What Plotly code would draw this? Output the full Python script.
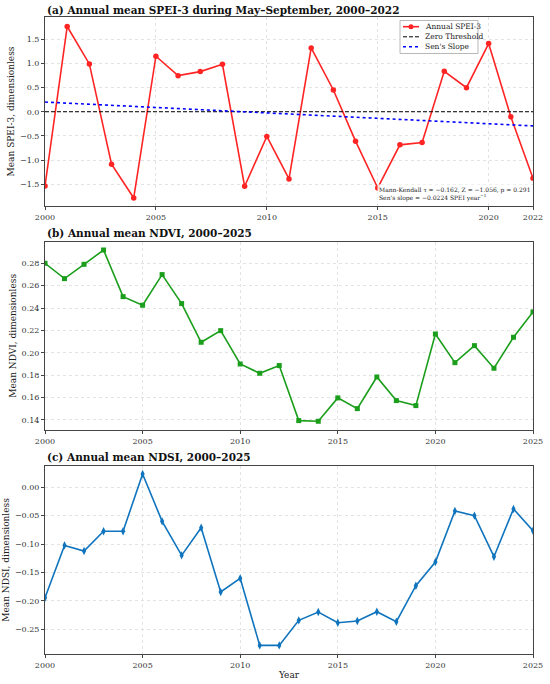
import plotly.graph_objects as go

# ---------------- data ----------------
spei_years = list(range(2000, 2023))
spei_values = [-1.535, 1.763, 0.989, -1.086, -1.784, 1.148, 0.747, 0.830, 0.982,
               -1.542, -0.512, -1.390, 1.321, 0.450, -0.609, -1.577, -0.685, -0.636,
               0.837, 0.498, 1.411, -0.104, -1.376]
sens_years = [2000, 2022]
sens_values = [0.200, -0.293]
zero_years = [2000, 2022]
zero_values = [0.0, 0.0]

ndvi_years = list(range(2000, 2026))
ndvi_values = [0.2800, 0.2663, 0.2791, 0.2919, 0.2502, 0.2425, 0.2699, 0.2440, 0.2094,
               0.2198, 0.1900, 0.1817, 0.1886, 0.1394, 0.1388, 0.1597, 0.1501, 0.1784,
               0.1573, 0.1528, 0.2168, 0.1912, 0.2064, 0.1862, 0.2139, 0.2365]

ndsi_years = list(range(2000, 2026))
ndsi_values = [-0.1947, -0.1024, -0.1124, -0.0776, -0.0776, 0.0235, -0.0600, -0.1200,
               -0.0712, -0.1847, -0.1606, -0.2788, -0.2788, -0.2347, -0.2200, -0.2388,
               -0.2359, -0.2194, -0.2371, -0.1735, -0.1318, -0.0418, -0.0500, -0.1224,
               -0.0382, -0.0765]

spei_xticks = [2000, 2005, 2010, 2015, 2020, 2022]
long_xticks = [2000, 2005, 2010, 2015, 2020, 2025]

legend_labels = ["Annual SPEI-3", "Zero Threshold", "Sen's Slope"]
titles = ["(a) Annual mean SPEI-3 during May\u2013September, 2000\u20132022",
          "(b) Annual mean NDVI, 2000\u20132025",
          "(c) Annual mean NDSI, 2000\u20132025"]
ylabels = ["Mean SPEI-3, dimensionless", "Mean NDVI, dimensionless", "Mean NDSI, dimensionless"]
stats_text = ("Mann-Kendall \u03c4 = \u22120.162, Z = \u22121.056, p = 0.291<br>"
              "Sen's slope = \u22120.0224 SPEI year<sup>\u22121</sup>")

# ---------------- styling ----------------
W, H = 550, 684
L, R, T, B = 45, 17, 17, 30
PH = H - T - B
PW = W - L - R
FONT = "DejaVu Serif"
RED = "#ff2424"
GREEN = "#1b9e1b"
BLUE = "#0f74bd"
TXT = "#222222"

def py(px):
    # pixel y (from top of page) -> paper fraction
    return 1 - (px - T) / PH

def pxx(px):
    return (px - L) / PW

doms = [[py(206), py(17)], [py(430), py(241.7)], [py(654), py(466)]]

fig = go.Figure()

fig.add_trace(go.Scatter(x=spei_years, y=spei_values, mode="lines+markers", name=legend_labels[0],
                         line=dict(color=RED, width=1.6), marker=dict(symbol="circle", size=5.5, color=RED),
                         xaxis="x", yaxis="y", showlegend=False))
fig.add_trace(go.Scatter(x=zero_years, y=zero_values, mode="lines", name=legend_labels[1],
                         line=dict(color="black", width=1, dash="4px,2px"), xaxis="x", yaxis="y",
                         showlegend=False))
fig.add_trace(go.Scatter(x=sens_years, y=sens_values, mode="lines", name=legend_labels[2],
                         line=dict(color="blue", width=1.6, dash="dot"), xaxis="x", yaxis="y",
                         showlegend=False))

fig.add_trace(go.Scatter(x=ndvi_years, y=ndvi_values, mode="lines+markers", showlegend=False,
                         line=dict(color=GREEN, width=1.6), marker=dict(symbol="square", size=5, color=GREEN),
                         xaxis="x2", yaxis="y2"))
fig.add_trace(go.Scatter(x=ndsi_years, y=ndsi_values, mode="lines+markers", showlegend=False,
                         line=dict(color=BLUE, width=1.6), marker=dict(symbol="diamond-tall", size=6, color=BLUE),
                         xaxis="x3", yaxis="y3"))

axis_common = dict(showline=True, linecolor="#444444", linewidth=1, mirror=True,
                   ticks="outside", ticklen=3, tickcolor="#444444", automargin=False,
                   showgrid=True, gridcolor="#e3e3e3", griddash="dot", gridwidth=1,
                   zeroline=False, tickfont=dict(family=FONT, size=8, color="#333333"))

def ytitle(t):
    return dict(text=t, font=dict(family=FONT, size=9, color=TXT), standoff=3)

fig.update_layout(
    width=W, height=H, margin=dict(l=L, r=R, t=T, b=B, autoexpand=False),
    paper_bgcolor="white", plot_bgcolor="white",
    font=dict(family=FONT, size=8, color=TXT),
    showlegend=False,
    xaxis=dict(anchor="y", range=[2000, 2022], tickvals=spei_xticks, **axis_common),
    yaxis=dict(domain=doms[0], anchor="x", range=[-1.95, 1.96], tickvals=[-1.5, -1.0, -0.5, 0.0, 0.5, 1.0, 1.5],
               ticktext=["\u22121.5", "\u22121.0", "\u22120.5", "0.0", "0.5", "1.0", "1.5"],
               title=ytitle(ylabels[0]), **axis_common),
    xaxis2=dict(anchor="y2", range=[2000, 2025], tickvals=long_xticks, **axis_common),
    yaxis2=dict(domain=doms[1], anchor="x2", range=[0.131, 0.2993],
                tickvals=[0.14, 0.16, 0.18, 0.20, 0.22, 0.24, 0.26, 0.28], tickformat=".2f",
                title=ytitle(ylabels[1]), **axis_common),
    xaxis3=dict(anchor="y3", range=[2000, 2025], tickvals=long_xticks,
                title=dict(text="Year", font=dict(family=FONT, size=9, color=TXT), standoff=3),
                **axis_common),
    yaxis3=dict(domain=doms[2], anchor="x3", range=[-0.294, 0.0376],
                tickvals=[-0.25, -0.20, -0.15, -0.10, -0.05, 0.0],
                ticktext=["\u22120.25", "\u22120.20", "\u22120.15", "\u22120.10", "\u22120.05", "0.00"],
                title=ytitle(ylabels[2]), **axis_common),
)

# panel titles
title_y = [py(10), py(233), py(457)]
for t, yy in zip(titles, title_y):
    fig.add_annotation(text="<b>" + t + "</b>", x=0, y=yy, xref="paper", yref="paper",
                       xanchor="left", yanchor="middle", showarrow=False,
                       font=dict(family=FONT, size=10.5, color="#111111"))

# custom legend box for panel (a)
box = dict(x0=400, x1=478, y0=20.5, y1=53.5)
fig.add_shape(type="rect", xref="paper", yref="paper",
              x0=pxx(box["x0"]), x1=pxx(box["x1"]), y0=py(box["y1"]), y1=py(box["y0"]),
              line=dict(color="#b8b8b8", width=1), fillcolor="rgba(255,255,255,0.92)", layer="above")
row_y = [26.7, 36.8, 46.8]
styles = [dict(color=RED, width=1.6), dict(color="black", width=1, dash="4px,2px"),
          dict(color="blue", width=1.6, dash="dot")]
for lab, ry, st in zip(legend_labels, row_y, styles):
    fig.add_shape(type="line", xref="paper", yref="paper", x0=pxx(403), x1=pxx(419),
                  y0=py(ry), y1=py(ry), line=st, layer="above")
    fig.add_annotation(text=lab, x=pxx(423), y=py(ry), xref="paper", yref="paper",
                       xanchor="left", yanchor="middle", showarrow=False,
                       font=dict(family=FONT, size=7.5, color=TXT))
fig.add_shape(type="circle", xref="paper", yref="paper",
              x0=pxx(408.5), x1=pxx(413.5), y0=py(row_y[0] + 2.5), y1=py(row_y[0] - 2.5),
              fillcolor=RED, line=dict(color=RED, width=0), layer="above")

# statistics text
fig.add_annotation(text=stats_text, x=pxx(532), y=py(204), xref="paper", yref="paper",
                   xanchor="right", yanchor="bottom", align="left", showarrow=False,
                   bgcolor="rgba(255,255,255,0.85)", borderpad=1,
                   font=dict(family=FONT, size=6, color=TXT))

fig.write_html("out.html", config={"displayModeBar": False},
               post_script="document.body.style.margin='0px';document.body.style.overflow='hidden';")
